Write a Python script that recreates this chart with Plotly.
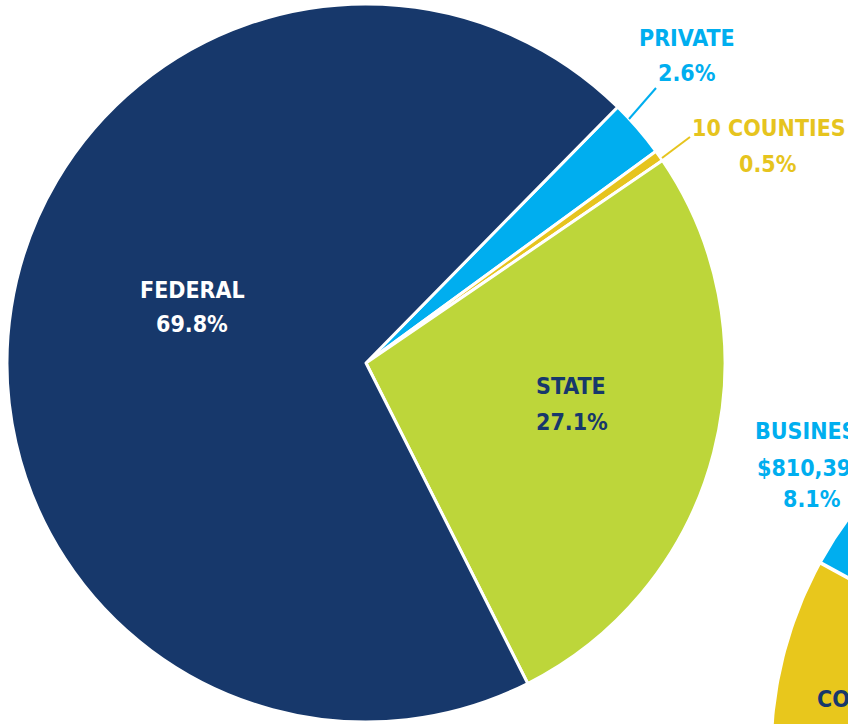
import numpy as np
import plotly.graph_objects as go

# ---------------- data ----------------
main_labels = ["PRIVATE", "10 COUNTIES", "STATE", "FEDERAL"]
main_values = [2.6, 0.5, 27.1, 69.8]
main_colors = ["#00AEEF", "#E6C41E", "#BDD63A", "#17386B"]

side_labels = ["COUNTIES", "BUSINESS"]
side_values = [60.0, 8.1]          # COUNTIES share estimated (mostly off-picture)
side_colors = ["#E8C71C", "#00AEEF"]
business_amount = "$810,39"

# ---------------- layout constants ----------------
W, H = 848, 724
FONT = "DejaVu Sans Condensed, DejaVu Sans, sans-serif"
FS = 23
NAVY, CYAN, YELLOW = "#17386B", "#00AEEF", "#E6C41E"

PIE_CX, PIE_CY, PIE_R = 366, 363, 359
PIE_ROT = 44.5

SIDE_CX, SIDE_CY, SIDE_R = 1169, 754, 398
SIDE_SPLIT = 298.7   # angle (clockwise from 12 o'clock) where COUNTIES ends / BUSINESS starts

fig = go.Figure()

# main pie
fig.add_trace(go.Pie(
    labels=main_labels, values=main_values, sort=False,
    direction="clockwise", rotation=PIE_ROT,
    marker=dict(colors=main_colors, line=dict(color="white", width=3)),
    textinfo="none", hoverinfo="label+percent", showlegend=False,
    domain=dict(x=[(PIE_CX - PIE_R) / W, (PIE_CX + PIE_R) / W],
                y=[(H - PIE_CY - PIE_R) / H, (H - PIE_CY + PIE_R) / H]),
))

# second (partially visible) pie, drawn on pixel-scaled axes
start = SIDE_SPLIT - side_values[0] * 3.6
for lab, val, col in zip(side_labels, side_values, side_colors):
    a0, a1 = start, start + val * 3.6
    t = np.radians(np.linspace(a0, a1, 300))
    xs = np.concatenate([[SIDE_CX], SIDE_CX + SIDE_R * np.sin(t), [SIDE_CX]])
    ys = np.concatenate([[SIDE_CY], SIDE_CY - SIDE_R * np.cos(t), [SIDE_CY]])
    fig.add_trace(go.Scatter(x=xs, y=ys, mode="lines", fill="toself",
                             fillcolor=col, line=dict(color="white", width=3),
                             name=lab, hoverinfo="name", showlegend=False))
    start = a1

def ann(text, x, y, color, xanchor="center"):
    fig.add_annotation(text=text, x=x, y=y, xref="x", yref="y",
                       xanchor=xanchor, yanchor="middle", showarrow=False,
                       align="center",
                       font=dict(family=FONT, size=FS, color=color, weight="bold"))

ann(main_labels[3], 192, 290, "white")
ann(f"{main_values[3]}%", 192, 324, "white")
ann(main_labels[2], 571, 386, NAVY)
ann(f"{main_values[2]}%", 572, 422, NAVY)
ann(main_labels[0], 687, 38, CYAN)
ann(f"{main_values[0]}%", 687, 73, CYAN)
ann(main_labels[1], 769, 128, YELLOW)
ann(f"{main_values[1]}%", 768, 164, YELLOW)

ann(side_labels[1], 812, 431, CYAN)
ann(business_amount, 755, 468, CYAN, xanchor="left")
ann(f"{side_values[1]}%", 812, 499, CYAN)
ann(side_labels[0], 815, 699, NAVY, xanchor="left")

# leader lines
fig.add_shape(type="line", x0=629, y0=119, x1=656, y1=88, xref="x", yref="y",
              line=dict(color=CYAN, width=2))
fig.add_shape(type="line", x0=662, y0=158, x1=690, y1=137, xref="x", yref="y",
              line=dict(color=YELLOW, width=2))

fig.update_xaxes(range=[0, W], visible=False, fixedrange=True)
fig.update_yaxes(range=[H, 0], visible=False, fixedrange=True)
fig.update_layout(width=W, height=H, margin=dict(l=0, r=0, t=0, b=0),
                  paper_bgcolor="white", plot_bgcolor="white", showlegend=False)

fig.write_html("out.html", config={"displayModeBar": False},
               post_script="document.body.style.margin='0px';")
